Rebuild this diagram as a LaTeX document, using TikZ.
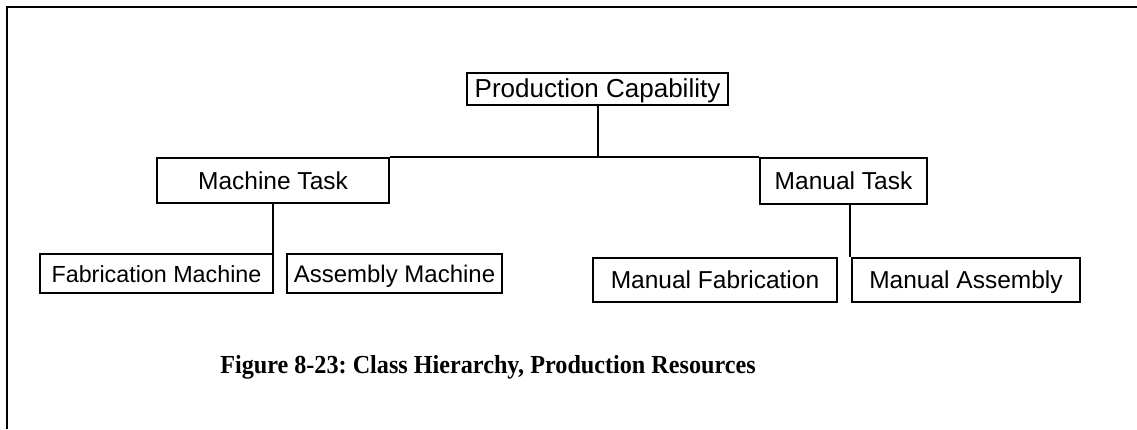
\documentclass[tikz,border=0pt]{standalone}
\usepackage{fontspec}
\setmainfont{Liberation Serif}
\newfontfamily\boxfont{Liberation Sans}
\frenchspacing
\begin{document}
\begin{tikzpicture}[x=1pt,y=-1pt,
  cls/.style={draw,line width=2pt,inner sep=0pt,text height=17.5pt,text depth=0pt,font=\boxfont\fontsize{24.5}{28}\selectfont},
  link/.style={line width=2pt},
  frame/.style={line width=2.5pt}]
\useasboundingbox (0,0) rectangle (1137,429);
\fill[white] (0,0) rectangle (1137,429);
% frame (top and left only)
\coordinate (tl) at (7,7);
\coordinate (tr) at (1137,7);
\coordinate (bl) at (7,429);
\draw[frame] (tr) -- (tl) -- (bl);
% nodes
\node[cls,font=\boxfont\fontsize{26}{30}\selectfont,minimum width=261pt,minimum height=32pt] (pc) at (597.5,89) {Production Capability};
\node[cls,minimum width=232pt,minimum height=45pt] (mt) at (273,180.5) {Machine Task};
\node[cls,minimum width=167pt,minimum height=46pt] (nt) at (843.5,181) {Manual Task};
\node[cls,font=\boxfont\fontsize{23.3}{28}\selectfont,minimum width=233pt,minimum height=39pt] (fm) at (156.5,273.5) {Fabrication Machine};
\node[cls,font=\boxfont\fontsize{24}{28}\selectfont,minimum width=215pt,minimum height=39pt] (am) at (394.5,273.5) {Assembly Machine};
\node[cls,minimum width=244pt,minimum height=44pt] (mf) at (715,280) {Manual Fabrication};
\node[cls,minimum width=228pt,minimum height=44pt] (ma) at (966,280) {Manual Assembly};
% connectors
\draw[link] (pc.south) -- (pc.south |- mt.north);
\draw[link] (mt.north east) -- (mt.north east -| nt.north west);
\draw[link] (mt.south) -- (mt.south |- fm.north);
\coordinate (ntdrop) at ([xshift=6.5pt]nt.south);
\draw[link] (ntdrop) -- (ntdrop |- mf.north);
% caption
\node[font=\bfseries\fontsize{26}{30}\selectfont,inner sep=0pt,xscale=0.93] (cap) at (488,367) {Figure 8-23: Class Hierarchy, Production Resources};
\end{tikzpicture}
\end{document}
